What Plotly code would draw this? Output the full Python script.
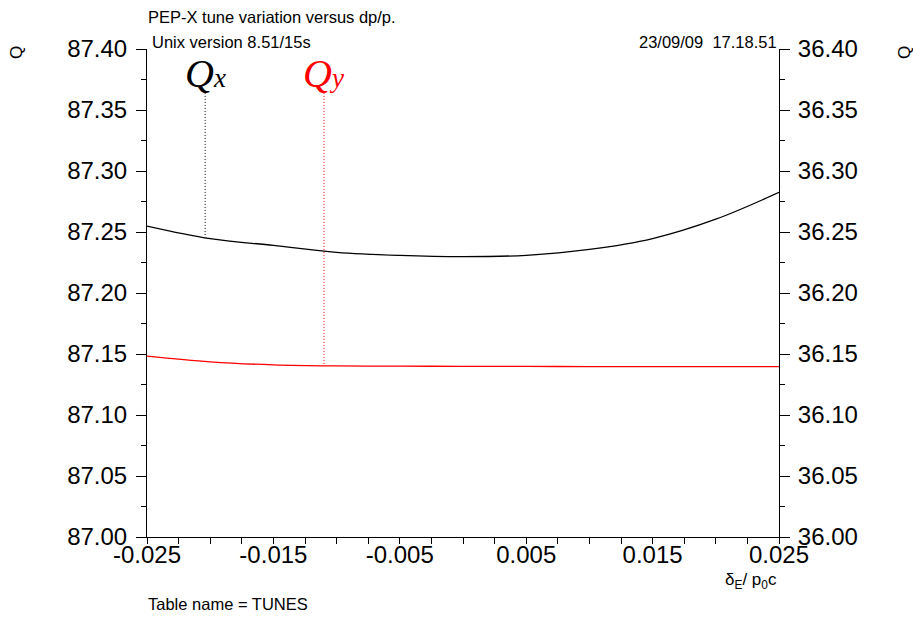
import numpy as np
import plotly.graph_objects as go

# ---- data ----
dp = [-0.025, -0.020, -0.015, -0.010, -0.005, 0.000, 0.005, 0.010, 0.015, 0.020, 0.025]
qx = [87.2549, 87.2446, 87.2390, 87.2333, 87.2308, 87.2298, 87.2309, 87.2357, 87.2446, 87.2605, 87.2825]
qy = [36.1482, 36.1436, 36.1411, 36.1402, 36.1400, 36.1399, 36.1398, 36.1397, 36.1397, 36.1396, 36.1396]

x_tickvals = [-0.025, -0.015, -0.005, 0.005, 0.015, 0.025]
x_ticktext = ["-0.025", "-0.015", "-0.005", "0.005", "0.015", "0.025"]

marker_x = [-0.0204, -0.011]     # positions of the Qx / Qy label markers
marker_top_frac = 0.91           # fraction of y range where dotted markers start

title_text = "PEP-X tune variation versus dp/p."
version_text = "Unix version 8.51/15s"
date_text = "23/09/09  17.18.51"
table_text = "Table name = TUNES"

FONT = "Liberation Sans"
SERIF = "Liberation Serif"

fig = go.Figure()

fig.add_trace(go.Scatter(x=dp, y=qx, mode="lines", line=dict(color="black", width=1.3, shape="spline"),
                         yaxis="y", showlegend=False))
fig.add_trace(go.Scatter(x=dp, y=qy, mode="lines", line=dict(color="red", width=1.3, shape="spline"),
                         yaxis="y2", showlegend=False))

y1_range = [87.0, 87.4]
y2_range = [36.0, 36.4]
# dotted marker lines
mx_bot = float(np.interp(marker_x[0], dp, qx))
my_bot = float(np.interp(marker_x[1], dp, qy))
top1 = y1_range[0] + marker_top_frac * (y1_range[1] - y1_range[0])
top2 = y2_range[0] + marker_top_frac * (y2_range[1] - y2_range[0])
fig.add_trace(go.Scatter(x=[marker_x[0], marker_x[0]], y=[top1, mx_bot], mode="lines",
                         line=dict(color="black", width=1, dash="1px,2px"), yaxis="y", showlegend=False))
fig.add_trace(go.Scatter(x=[marker_x[1], marker_x[1]], y=[top2, my_bot], mode="lines",
                         line=dict(color="red", width=1, dash="1px,2px"), yaxis="y2", showlegend=False))

tickfont = dict(family=FONT, size=24, color="black")

fig.update_layout(
    width=913, height=617,
    margin=dict(l=147, r=134, t=49, b=80),
    paper_bgcolor="white", plot_bgcolor="white",
    xaxis=dict(range=[-0.025, 0.025], tickvals=x_tickvals, ticktext=x_ticktext,
               ticks="outside", ticklen=6, tickcolor="black", tickwidth=1,
               minor=dict(dtick=0.0025, tick0=-0.025, ticks="outside", ticklen=6, tickcolor="black"),
               showline=True, linecolor="black", linewidth=1, showgrid=False, zeroline=False,
               tickfont=tickfont, ticklabelstandoff=-10),
    xaxis2=dict(range=[-0.025, 0.025], overlaying="x", side="top", anchor="y",
                tickvals=x_tickvals, showticklabels=False,
                ticks="inside", ticklen=5, tickcolor="black",
                minor=dict(dtick=0.0025, tick0=-0.025, ticks="inside", ticklen=5, tickcolor="black"),
                showline=True, linecolor="black", linewidth=1, showgrid=False, zeroline=False),
    yaxis=dict(range=y1_range, dtick=0.05, tick0=87.0, tickformat=".2f",
               ticks="outside", ticklen=10, tickcolor="black",
               minor=dict(dtick=0.025, ticks="outside", ticklen=5, tickcolor="black"),
               showline=True, linecolor="black", linewidth=1, showgrid=False, zeroline=False,
               tickfont=tickfont, ticklabelstandoff=4),
    yaxis2=dict(range=y2_range, dtick=0.05, tick0=36.0, tickformat=".2f", overlaying="y", side="right",
                anchor="x", ticks="outside", ticklen=10, tickcolor="black",
                minor=dict(dtick=0.025, ticks="outside", ticklen=5, tickcolor="black"),
                showline=True, linecolor="black", linewidth=1, showgrid=False, zeroline=False,
                tickfont=tickfont, ticklabelstandoff=3),
)

small = dict(family=FONT, size=16.5, color="black")
ann = [
    dict(text=title_text, x=146, y=617 - 17, xanchor="left", yanchor="middle", font=small),
    dict(text=version_text, x=150, y=617 - 42, xanchor="left", yanchor="middle", font=small),
    dict(text=date_text, x=779, y=617 - 42, xanchor="right", yanchor="middle", font=small),
    dict(text=table_text, x=146, y=617 - 604, xanchor="left", yanchor="middle", font=small),
    dict(text="δ<sub>E</sub>/ p<sub>0</sub>c", x=779, y=617 - 581, xanchor="right", yanchor="middle",
         font=dict(family=FONT, size=17, color="black")),
    dict(text="Q", x=16, y=617 - 53, xanchor="center", yanchor="middle", textangle=-90,
         font=dict(family=FONT, size=17, color="black")),
    dict(text="Q", x=904, y=617 - 53, xanchor="center", yanchor="middle", textangle=-90,
         font=dict(family=FONT, size=17, color="black")),
]
shapes_ann = []
for a in ann:
    a.update(xref="paper", yref="paper", showarrow=False)
    # convert pixel to paper coordinates relative to plot area
    a["x"] = (a["x"] - 147) / (913 - 147 - 134)
    a["y"] = (a["y"] - 80) / (617 - 49 - 80)
    shapes_ann.append(a)

# Q labels over marker lines
qlabels = [("x", "black", "y", marker_x[0]), ("y", "red", "y2", marker_x[1])]
label_frac = 0.95
for sub, col, yax, xv in qlabels:
    rng = y1_range if yax == "y" else y2_range
    shapes_ann.append(dict(
        text=f"<i>Q</i><span style='font-size:27px'><i>{sub}</i></span>",
        x=xv, y=rng[0] + label_frac * (rng[1] - rng[0]), xref="x", yref=yax,
        xanchor="center", yanchor="middle", showarrow=False,
        font=dict(family=SERIF, size=40, color=col)))

fig.update_layout(annotations=shapes_ann)
fig.write_html("out.html")
